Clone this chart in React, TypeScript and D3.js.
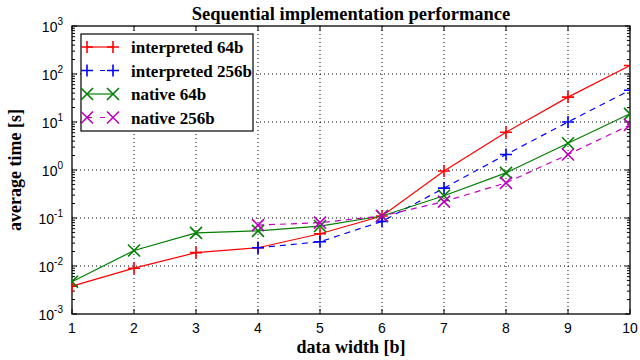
import * as d3 from "d3";
import { useEffect, useRef } from "react";

const widths = [1, 2, 3, 4, 5, 6, 7, 8, 9, 10];
const interp64 = [0.0038, 0.009, 0.019, 0.024, 0.047, 0.11, 0.95, 6.1, 33, 150];
const interp256 = [null, null, null, 0.024, 0.032, 0.085, 0.42, 2.1, 10, 46];
const native64 = [0.0047, 0.021, 0.049, 0.054, 0.068, 0.11, 0.29, 0.87, 3.6, 14.8];
const native256 = [null, null, null, 0.071, 0.08, 0.11, 0.22, 0.54, 2.1, 8.7];
const yDecades = [-3, -2, -1, 0, 1, 2, 3];

const seriesList = [
    { name: "interpreted 64b", values: interp64, color: "#ff0000", dash: null, marker: "plus" },
    { name: "interpreted 256b", values: interp256, color: "#0000ff", dash: "6,5", marker: "plus" },
    { name: "native 64b", values: native64, color: "#008000", dash: null, marker: "cross" },
    { name: "native 256b", values: native256, color: "#bf00bf", dash: "6,5", marker: "cross" },
];

export default function App() {
    const ref = useRef<SVGSVGElement>(null);

    useEffect(() => {
        const svg = d3.select(ref.current);
        svg.selectAll("*").remove();

        const left = 72, right = 630, top = 26, bottom = 314;
        const x = d3.scaleLinear().domain([1, 10]).range([left, right]);
        const y = d3.scaleLog().domain([1e-3, 1e3]).range([bottom, top]);

        const g = svg.append("g");
        const tickFont = "'Liberation Sans', Arial, sans-serif";
        const serif = "'Liberation Serif', 'Times New Roman', serif";

        // grid
        widths.slice(1, -1).forEach(w => {
            g.append("line").attr("x1", x(w)).attr("x2", x(w)).attr("y1", top).attr("y2", bottom)
                .attr("stroke", "#000").attr("stroke-width", 1).attr("stroke-dasharray", "1,3");
        });
        yDecades.slice(1, -1).forEach(e => {
            g.append("line").attr("x1", left).attr("x2", right).attr("y1", y(10 ** e)).attr("y2", y(10 ** e))
                .attr("stroke", "#000").attr("stroke-width", 1).attr("stroke-dasharray", "1,3");
        });

        // ticks (inside, both sides)
        widths.forEach(w => {
            g.append("line").attr("x1", x(w)).attr("x2", x(w)).attr("y1", bottom).attr("y2", bottom - 5).attr("stroke", "#000");
            g.append("line").attr("x1", x(w)).attr("x2", x(w)).attr("y1", top).attr("y2", top + 5).attr("stroke", "#000");
        });
        yDecades.forEach((e, i) => {
            const yy = y(10 ** e);
            g.append("line").attr("x1", left).attr("x2", left + 5).attr("y1", yy).attr("y2", yy).attr("stroke", "#000");
            g.append("line").attr("x1", right).attr("x2", right - 5).attr("y1", yy).attr("y2", yy).attr("stroke", "#000");
            if (i < yDecades.length - 1) {
                for (let m = 2; m <= 9; m++) {
                    const ym = y(m * 10 ** e);
                    g.append("line").attr("x1", left).attr("x2", left + 3).attr("y1", ym).attr("y2", ym).attr("stroke", "#000");
                    g.append("line").attr("x1", right).attr("x2", right - 3).attr("y1", ym).attr("y2", ym).attr("stroke", "#000");
                }
            }
        });

        // frame
        g.append("rect").attr("x", left).attr("y", top).attr("width", right - left).attr("height", bottom - top)
            .attr("fill", "none").attr("stroke", "#000").attr("stroke-width", 1.3);

        // tick labels
        widths.forEach(w => {
            g.append("text").attr("x", x(w)).attr("y", bottom + 19).attr("text-anchor", "middle")
                .attr("font-family", tickFont).attr("font-size", 14).text(w);
        });
        yDecades.forEach(e => {
            const t = g.append("text").attr("x", 63).attr("y", y(10 ** e) + 6).attr("text-anchor", "end")
                .attr("font-family", tickFont).attr("font-size", 14);
            t.append("tspan").text("10");
            t.append("tspan").attr("dy", -7).attr("font-size", 10).text(String(e));
        });

        // lines and markers
        const line = d3.line<any>()
            .defined(d => d.v != null)
            .x(d => x(d.w))
            .y(d => y(d.v));

        const drawMarker = (sel: any, cx: number, cy: number, type: string, color: string) => {
            const s = 6;
            const d = type === "plus"
                ? `M${cx - s},${cy}H${cx + s}M${cx},${cy - s}V${cy + s}`
                : `M${cx - s},${cy - s}L${cx + s},${cy + s}M${cx - s},${cy + s}L${cx + s},${cy - s}`;
            sel.append("path").attr("d", d)
                .attr("stroke", color).attr("stroke-width", 1.6).attr("fill", "none");
        };

        const clip = svg.append("defs").append("clipPath").attr("id", "plotclip");
        clip.append("rect").attr("x", left).attr("y", top).attr("width", right - left).attr("height", bottom - top);

        seriesList.forEach(s => {
            const pts = widths.map((w, i) => ({ w, v: s.values[i] }));
            g.append("path").datum(pts).attr("d", line).attr("fill", "none")
                .attr("stroke", s.color).attr("stroke-width", 1.2)
                .attr("stroke-dasharray", s.dash);
            const mg = g.append("g").attr("clip-path", "url(#plotclip)");
            pts.filter(p => p.v != null).forEach(p => drawMarker(mg, x(p.w), y(p.v as number), s.marker, s.color));
        });

        // legend
        const lx = 81, ly = 34, lw = 172, lh = 97;
        const lg = g.append("g");
        lg.append("rect").attr("x", lx).attr("y", ly).attr("width", lw).attr("height", lh)
            .attr("fill", "#fff").attr("stroke", "#000").attr("stroke-width", 1.2);
        seriesList.forEach((s, i) => {
            const yy = 47 + i * 23.5;
            lg.append("line").attr("x1", 87).attr("x2", 113).attr("y1", yy).attr("y2", yy)
                .attr("stroke", s.color).attr("stroke-width", 1.2).attr("stroke-dasharray", s.dash ? "5,8" : null);
            drawMarker(lg, 87, yy, s.marker, s.color);
            drawMarker(lg, 113, yy, s.marker, s.color);
            lg.append("text").attr("x", 131).attr("y", yy + 6).attr("font-family", serif)
                .attr("font-weight", "bold").attr("font-size", 17).text(s.name);
        });

        // titles
        g.append("text").attr("x", (left + right) / 2).attr("y", 20).attr("text-anchor", "middle")
            .attr("font-family", serif).attr("font-weight", "bold").attr("font-size", 18.5)
            .text("Sequential implementation performance");
        g.append("text").attr("x", (left + right) / 2).attr("y", 353).attr("text-anchor", "middle")
            .attr("font-family", serif).attr("font-weight", "bold").attr("font-size", 18)
            .text("data width [b]");
        g.append("text").attr("transform", `translate(21,${(top + bottom) / 2}) rotate(-90)`)
            .attr("text-anchor", "middle")
            .attr("font-family", serif).attr("font-weight", "bold").attr("font-size", 18)
            .text("average time [s]");
    }, []);

    return (
        <svg ref={ref} width={640} height={360}
            style={{ position: "absolute", left: 0, top: 0, background: "#fff" }} />
    );
}
